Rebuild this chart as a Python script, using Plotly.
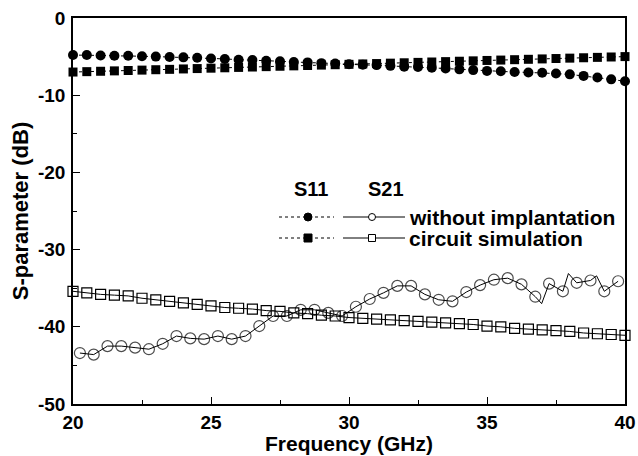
import plotly.graph_objects as go

# ---------------- data ----------------
freq = [20.0, 20.5, 21.0, 21.5, 22.0, 22.5, 23.0, 23.5, 24.0, 24.5,
        25.0, 25.5, 26.0, 26.5, 27.0, 27.5, 28.0, 28.5, 29.0, 29.5,
        30.0, 30.5, 31.0, 31.5, 32.0, 32.5, 33.0, 33.5, 34.0, 34.5,
        35.0, 35.5, 36.0, 36.5, 37.0, 37.5, 38.0, 38.5, 39.0, 39.5, 40.0]

s11_without = [-4.8, -4.8, -4.85, -4.9, -4.9, -4.95, -5.0, -5.05, -5.1, -5.15,
               -5.25, -5.3, -5.4, -5.45, -5.55, -5.6, -5.7, -5.75, -5.85, -5.9,
               -6.0, -6.05, -6.1, -6.2, -6.3, -6.35, -6.45, -6.55, -6.65, -6.75,
               -6.85, -6.9, -7.0, -7.05, -7.1, -7.2, -7.3, -7.5, -7.7, -7.95, -8.2]

s11_circuit = [-7.0, -6.95, -6.9, -6.85, -6.8, -6.75, -6.7, -6.65, -6.6, -6.55,
               -6.5, -6.45, -6.4, -6.35, -6.3, -6.25, -6.2, -6.15, -6.1, -6.05,
               -6.0, -5.95, -5.9, -5.85, -5.8, -5.75, -5.7, -5.65, -5.6, -5.55,
               -5.5, -5.45, -5.4, -5.35, -5.3, -5.25, -5.2, -5.15, -5.1, -5.05, -5.0]

s21_circuit = [-35.4, -35.6, -35.8, -35.9, -36.0, -36.3, -36.5, -36.7, -36.9, -37.1,
               -37.3, -37.5, -37.6, -37.7, -37.9, -38.0, -38.2, -38.3, -38.5, -38.6,
               -38.8, -38.9, -39.0, -39.1, -39.2, -39.3, -39.4, -39.5, -39.6, -39.7,
               -39.9, -40.0, -40.2, -40.3, -40.4, -40.5, -40.6, -40.8, -40.9, -41.0, -41.1]

# measured S21 (line vertices; the ones flagged False carry no marker)
freq_meas = [20.25, 20.75, 21.25, 21.75, 22.25, 22.75, 23.25, 23.75, 24.25, 24.75,
             25.25, 25.75, 26.25, 26.75, 27.25, 27.75, 28.25, 28.75, 29.25, 29.75,
             30.25, 30.75, 31.25, 31.75, 32.25, 32.75, 33.25, 33.75, 34.25, 34.75,
             35.25, 35.75, 36.25, 36.75, 36.98, 37.25, 37.75, 37.95, 38.25, 38.75,
             38.97, 39.25, 39.75]
s21_without = [-43.4, -43.6, -42.5, -42.5, -42.7, -42.9, -42.2, -41.2, -41.5, -41.6,
               -41.2, -41.6, -41.2, -39.9, -38.6, -38.6, -37.8, -37.8, -38.2, -38.6,
               -37.4, -36.4, -35.6, -34.7, -34.7, -35.8, -36.5, -36.7, -35.5, -34.6,
               -33.9, -33.7, -34.5, -36.1, -37.0, -34.4, -35.4, -33.1, -34.3, -34.0,
               -33.4, -35.4, -34.1]
s21_without_marked = [True] * 34 + [False, True, True, False, True, True, False, True, True]

x_ticks = [20, 25, 30, 35, 40]
y_ticks = [0, -10, -20, -30, -40, -50]

x_title = "Frequency (GHz)"
y_title = "S-parameter (dB)"
legend_head = ["S11", "S21"]
legend_rows = ["without implantation", "circuit simulation"]

FONT = "Liberation Sans, Arial, sans-serif"

fig = go.Figure()

fig.add_trace(go.Scatter(
    x=freq, y=s11_without, mode="lines+markers", cliponaxis=False,
    line=dict(color="black", width=1, dash="dot"),
    marker=dict(symbol="circle", size=10, color="black"),
    showlegend=False))

fig.add_trace(go.Scatter(
    x=freq, y=s11_circuit, mode="lines+markers", cliponaxis=False,
    line=dict(color="black", width=1, dash="dot"),
    marker=dict(symbol="square", size=9, color="black"),
    showlegend=False))

fig.add_trace(go.Scatter(
    x=freq, y=s21_circuit, mode="lines+markers", cliponaxis=False,
    line=dict(color="black", width=1),
    marker=dict(symbol="square-open", size=10, color="black", line=dict(width=1.2)),
    showlegend=False))

fig.add_trace(go.Scatter(
    x=freq_meas, y=s21_without, mode="lines+markers", cliponaxis=False,
    line=dict(color="black", width=1),
    marker=dict(symbol="circle-open", size=[11 if m else 0 for m in s21_without_marked],
                color="black", line=dict(width=1.2)),
    showlegend=False))

# ---------------- hand-built legend ----------------
L, R, T, B = 73, 625, 18, 404
W, H = R - L, B - T


def px(xp):
    return (xp - L) / W


def py(yp):
    return (B - yp) / H


shapes = []
annotations = []

for txt, cx in zip(legend_head, [311, 386]):
    annotations.append(dict(text=txt, x=px(cx), y=py(189), xref="paper", yref="paper",
                            showarrow=False, xanchor="center", yanchor="middle",
                            font=dict(family=FONT, size=20, color="black", weight="bold")))

row_y = [217, 238]
for i, (label, ry) in enumerate(zip(legend_rows, row_y)):
    yy = py(ry)
    # S11 sample (dotted)
    shapes.append(dict(type="line", xref="paper", yref="paper", x0=px(279), x1=px(334),
                       y0=yy, y1=yy, line=dict(color="black", width=1, dash="dot")))
    # S21 sample (solid)
    shapes.append(dict(type="line", xref="paper", yref="paper", x0=px(343), x1=px(405),
                       y0=yy, y1=yy, line=dict(color="black", width=1)))
    kind = "circle" if i == 0 else "rect"
    shapes.append(dict(type=kind, xref="paper", yref="paper", xsizemode="pixel", ysizemode="pixel",
                       xanchor=px(308), yanchor=yy, x0=-4, x1=4, y0=-4, y1=4,
                       fillcolor="black", line=dict(color="black", width=1)))
    shapes.append(dict(type=kind, xref="paper", yref="paper", xsizemode="pixel", ysizemode="pixel",
                       xanchor=px(372), yanchor=yy, x0=-3.5, x1=3.5, y0=-3.5, y1=3.5,
                       fillcolor="white", line=dict(color="black", width=1)))
    annotations.append(dict(text=label, x=px(407), y=yy, xref="paper", yref="paper",
                            showarrow=False, xanchor="left", yanchor="middle",
                            font=dict(family=FONT, size=21, color="black", weight="bold")))

# x-axis title placed as an annotation so it can sit just below the tick labels
annotations.append(dict(text=x_title, x=0.5, y=py(456), xref="paper", yref="paper",
                        showarrow=False, xanchor="center", yanchor="bottom", borderpad=0,
                        font=dict(family=FONT, size=21, color="black", weight="bold")))

axis_common = dict(
    showgrid=False, zeroline=False, showline=True, linecolor="black", linewidth=1.5,
    mirror=True, ticks="inside", ticklen=7, tickwidth=1.2, tickcolor="black",
    tickfont=dict(family=FONT, size=19, color="black", weight="bold"),
)

fig.update_xaxes(
    range=[20, 40], tickvals=x_ticks, ticktext=[str(v) for v in x_ticks],
    minor=dict(ticks="inside", ticklen=4, dtick=2.5, tick0=20, tickcolor="black", tickwidth=1),
    ticklabelstandoff=0,
    **axis_common)

fig.update_yaxes(
    range=[-50, 0], tickvals=y_ticks, ticktext=[str(v) for v in y_ticks],
    minor=dict(ticks="inside", ticklen=4, dtick=5, tick0=0, tickcolor="black", tickwidth=1),
    title=dict(text=y_title, standoff=3,
               font=dict(family=FONT, size=22, color="black", weight="bold")),
    ticklabelstandoff=2,
    **axis_common)

fig.update_layout(
    width=638, height=456,
    margin=dict(l=L, r=638 - R, t=T, b=456 - B, autoexpand=False),
    plot_bgcolor="white", paper_bgcolor="white",
    shapes=shapes, annotations=annotations,
    showlegend=False,
)

fig.write_html("out.html", config={"displayModeBar": False},
               post_script="document.body.style.margin='0';")
